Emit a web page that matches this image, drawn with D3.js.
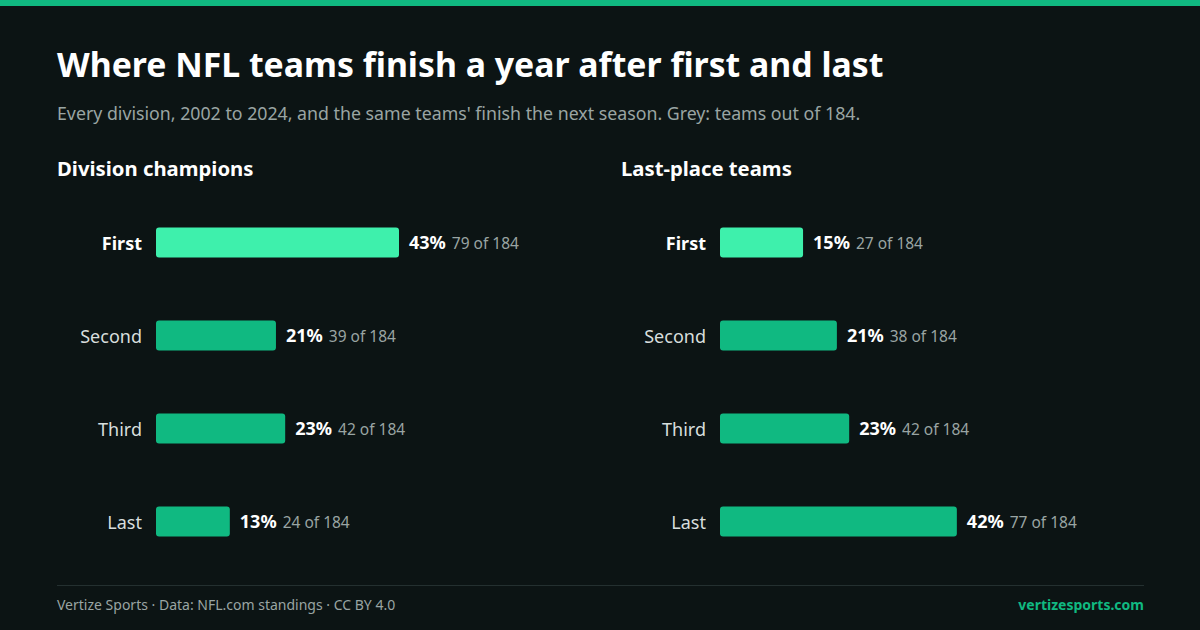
<!DOCTYPE html>
<html><head><meta charset="utf-8">
<script src="https://cdn.jsdelivr.net/npm/d3@7"></script>
<style>body{margin:0;background:#0c1414;}svg{display:block;font-family:"Noto Sans",sans-serif;}</style>
</head><body>
<svg id="c" width="1200" height="630"></svg>
<script>
const categories = ["First","Second","Third","Last"];
const championsCounts = [79,39,42,24];
const championsPct = [43,21,23,13];
const lastPlaceCounts = [27,38,42,77];
const lastPlacePct = [15,21,23,42];
const total = 184;

const svg = d3.select("#c");
svg.append("rect").attr("width",1200).attr("height",630).attr("fill","#0c1414");
svg.append("rect").attr("width",1200).attr("height",6).attr("fill","#10b981");
svg.append("text").attr("x",57).attr("y",77).attr("fill","#fff").attr("font-size",33.8).attr("font-weight",700)
  .text("Where NFL teams finish a year after first and last");
svg.append("text").attr("x",57).attr("y",120).attr("fill","#9aa5a3").attr("font-size",17.75)
  .text("Every division, 2002 to 2024, and the same teams' finish the next season. Grey: teams out of 184.");

const x = d3.scaleLinear().domain([0,79]).range([0,243]);
const y = d3.scaleBand().domain(categories).range([196,568]).paddingInner(0.68).paddingOuter(0.34);

function panel(x0, title, counts, pcts){
  const g = svg.append("g");
  g.append("text").attr("x",x0-99).attr("y",176).attr("fill","#fff").attr("font-size",20.3).attr("font-weight",700).text(title);
  categories.forEach((c,i)=>{
    const yc = y(c)+y.bandwidth()/2;
    g.append("text").attr("x",x0-14).attr("y",yc+1).attr("dy","0.35em").attr("text-anchor","end")
      .attr("fill", i===0?"#fff":"#d8dedd").attr("font-size",18).attr("font-weight",i===0?700:400).text(c);
    g.append("rect").attr("x",x0).attr("y",y(c)).attr("width",x(counts[i])).attr("height",y.bandwidth())
      .attr("rx",3).attr("fill", i===0?"#3ef0ac":"#10b981");
    const t = g.append("text").attr("x",x0+x(counts[i])+10).attr("y",yc+1).attr("dy","0.35em");
    t.append("tspan").attr("fill","#fff").attr("font-size",18).attr("font-weight",700).text(pcts[i]+"%");
    t.append("tspan").attr("fill","#9aa5a3").attr("font-size",15.5).attr("dx",6).text(counts[i]+" of "+total);
  });
}
panel(156,"Division champions",championsCounts,championsPct);
panel(720,"Last-place teams",lastPlaceCounts,lastPlacePct);

svg.append("line").attr("x1",57).attr("x2",1144).attr("y1",585.5).attr("y2",585.5).attr("stroke","#243030");
svg.append("text").attr("x",57).attr("y",610).attr("fill","#9aa5a3").attr("font-size",14)
  .text("Vertize Sports · Data: NFL.com standings · CC BY 4.0");
svg.append("text").attr("x",1144).attr("y",610).attr("text-anchor","end").attr("fill","#10b981").attr("font-size",14).attr("font-weight",700)
  .text("vertizesports.com");
</script></body></html>
